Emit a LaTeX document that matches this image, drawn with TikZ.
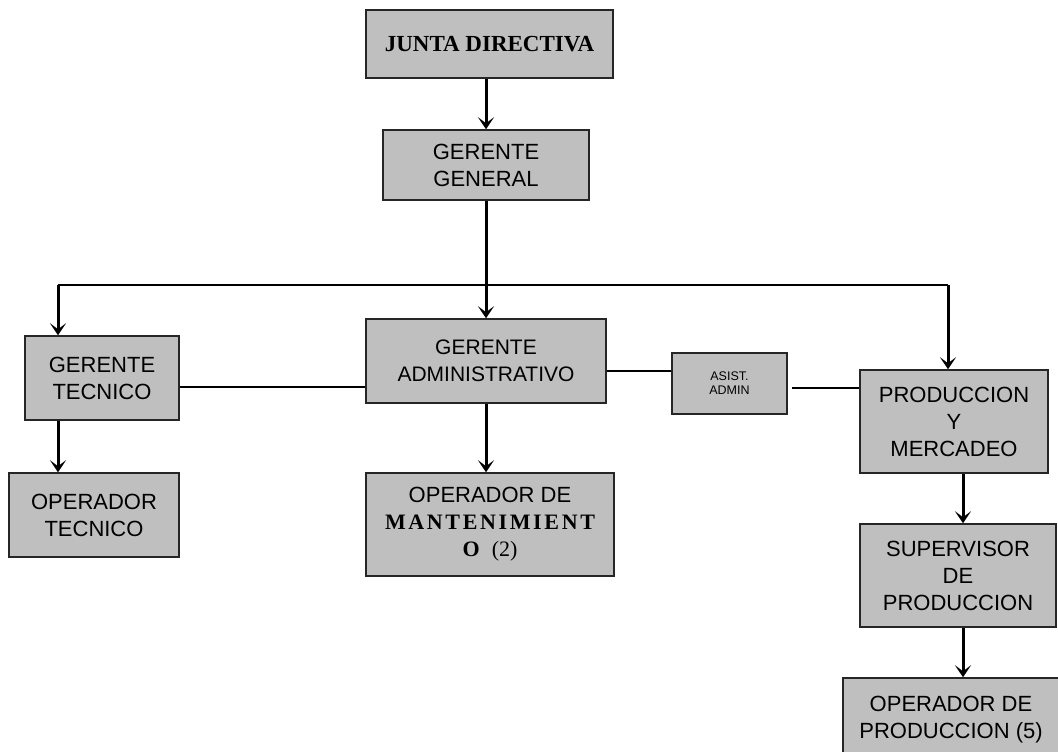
\documentclass[tikz,border=0pt]{standalone}
\usepackage{fontspec}
\setmainfont{Liberation Sans}
\newfontfamily\romanfont{Liberation Serif}
\usetikzlibrary{arrows.meta}

\begin{document}
\begin{tikzpicture}
        [
            x = 1pt, y = -1pt,
            every node/.append style = {draw = black!85, line width = 1.5pt, fill = gray!50, align = center, inner sep = 0pt, font = \fontsize{22}{27}\selectfont},
            puesto/.style 2 args = {minimum width = #1, minimum height = #2},
            flecha/.style = {line width = 3pt, -{Stealth[length = 12pt, width = 16pt, inset = 6pt]}},
            enlace/.style = {line width = 1.4pt}]
        \useasboundingbox (0,0) rectangle (1058,752);
        \node[puesto = {247pt}{68pt}] (junta) at (489.5,44) {\fontsize{23}{27}\selectfont\romanfont\bfseries JUNTA DIRECTIVA};
        \node[puesto = {206pt}{70pt}] (general) at (486,165) {GERENTE\\GENERAL};
        \node[puesto = {154pt}{84pt}] (tecnico) at (102,378) {GERENTE\\TECNICO};
        \node[puesto = {240pt}{84pt}, font = \fontsize{21}{27}\selectfont] (admin) at (486,361) {GERENTE\\ADMINISTRATIVO};
        \node[puesto = {115pt}{61pt}, font = \fontsize{12.5}{14}\selectfont] (asist) at (729.5,383.5) {ASIST.\\ADMIN};
        \node[puesto = {188pt}{103pt}] (mercadeo) at (954,421.5) {PRODUCCION\\Y\\MERCADEO};
        \node[puesto = {170pt}{84pt}] (optecnico) at (94,515) {OPERADOR\\TECNICO};
        \node[puesto = {248pt}{103pt}] (mantenimiento) at (490,524.5) {OPERADOR DE\\{\romanfont\bfseries\addfontfeature{LetterSpace=12}MANTENIMIENT}\\{\romanfont\bfseries O}\ \ {\romanfont (2)}};
        \node[puesto = {196pt}{103pt}] (supervisor) at (958,575.5) {SUPERVISOR\\DE\\PRODUCCION};
        \node[puesto = {216pt}{84pt}] (opproduccion) at (951,720) {OPERADOR DE\\PRODUCCION (5)};
        \coordinate (busizq) at (58,285);
        \coordinate (busder) at (948,285);
        \draw[flecha] (general.north |- junta.south) -- (general.north);
        \draw[flecha] (general.south) -- (admin.north);
        \draw[enlace] (busizq) -- (busder);
        \draw[flecha] (busizq) -- (busizq |- tecnico.north);
        \draw[flecha] (busder) -- (busder |- mercadeo.north);
        \draw[flecha] (busizq |- tecnico.south) -- (busizq |- optecnico.north);
        \draw[flecha] (admin.south) -- (admin.south |- mantenimiento.north);
        \draw[enlace] ([yshift = -9pt]tecnico.east) -- ([yshift = -9pt]tecnico.east -| admin.west);
        \draw[enlace] ([yshift = -10pt]admin.east) -- ([yshift = -10pt]admin.east -| asist.west);
        \draw[enlace] ([xshift = 4pt, yshift = -4.5pt]asist.east) -- ([yshift = -4.5pt]asist.east -| mercadeo.west);
        \draw[flecha] ([xshift = 9pt]mercadeo.south) -- ([xshift = 9pt]mercadeo.south |- supervisor.north);
        \draw[flecha] ([xshift = 5pt]supervisor.south) -- ([xshift = 5pt]supervisor.south |- opproduccion.north);
    \end{tikzpicture}
\end{document}
